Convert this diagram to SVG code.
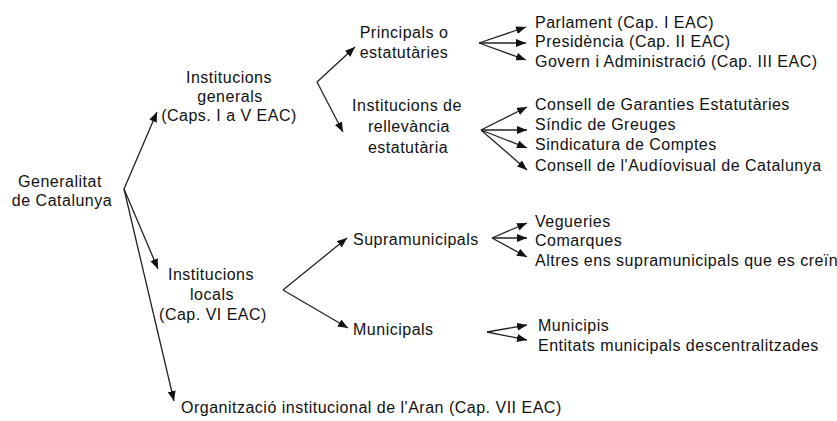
<svg xmlns="http://www.w3.org/2000/svg" width="837" height="421" viewBox="0 0 837 421">
<style>
text{font-family:"Liberation Sans",Arial,sans-serif;font-size:16px;fill:#111;letter-spacing:0.5px}
.c{text-anchor:middle}
.ln{stroke:#222;stroke-width:1.3;fill:none;marker-end:url(#ah)}
</style>
<defs>
<marker id="ah" markerUnits="userSpaceOnUse" markerWidth="11" markerHeight="9" refX="10" refY="4" orient="auto" viewBox="0 0 11 9">
<path d="M0,0 L10,4 L0,8 z" fill="#111"/>
</marker>
</defs>
<rect width="837" height="421" fill="#fff"/>
<g id="connectors">
<path class="ln" d="M124,189 L157,112"/>
<path class="ln" d="M124,189 L158,269"/>
<path class="ln" d="M124,189 L174,401"/>
<path class="ln" d="M317,82 L355,47"/>
<path class="ln" d="M317,82 L343,132"/>
<path class="ln" d="M283,290 L347,238"/>
<path class="ln" d="M283,290 L348,328"/>
<path class="ln" d="M479,43 L526,27"/>
<path class="ln" d="M479,43 L526,43"/>
<path class="ln" d="M479,43 L526,60"/>
<path class="ln" d="M481,130 L527,107"/>
<path class="ln" d="M481,130 L527,130"/>
<path class="ln" d="M481,130 L527,148"/>
<path class="ln" d="M481,130 L527,170"/>
<path class="ln" d="M492,238 L527,223"/>
<path class="ln" d="M492,238 L527,238"/>
<path class="ln" d="M492,238 L527,257"/>
<path class="ln" d="M487,332 L527,325"/>
<path class="ln" d="M487,332 L527,340"/>
</g>
<g id="generalitat"><text class="c" x="60" y="187">Generalitat</text><text class="c" x="62" y="206">de Catalunya</text></g>
<g id="inst-generals"><text class="c" x="229" y="83">Institucions</text><text class="c" x="230" y="102">generals</text><text class="c" x="229" y="121">(Caps. I a V EAC)</text></g>
<g id="principals"><text class="c" x="404" y="38">Principals o</text><text class="c" x="404" y="58">estatutàries</text></g>
<g id="rellevancia"><text class="c" x="407" y="111">Institucions de</text><text class="c" x="409" y="132">rellevància</text><text class="c" x="408" y="153">estatutària</text></g>
<g id="parlament"><text x="535" y="28">Parlament (Cap. I EAC)</text></g>
<g id="presidencia"><text x="535" y="47">Presidència (Cap. II EAC)</text></g>
<g id="govern"><text x="535" y="67">Govern i Administració (Cap. III EAC)</text></g>
<g id="consell-garanties"><text x="535" y="110">Consell de Garanties Estatutàries</text></g>
<g id="sindic"><text x="535" y="130">Síndic de Greuges</text></g>
<g id="sindicatura"><text x="535" y="150">Sindicatura de Comptes</text></g>
<g id="audiovisual"><text x="535" y="171">Consell de l'Audíovisual de Catalunya</text></g>
<g id="inst-locals"><text class="c" x="211" y="280">Institucions</text><text class="c" x="212" y="300">locals</text><text class="c" x="213" y="320">(Cap. VI EAC)</text></g>
<g id="supramunicipals"><text x="353" y="245">Supramunicipals</text></g>
<g id="vegueries"><text x="535" y="227">Vegueries</text></g>
<g id="comarques"><text x="535" y="246">Comarques</text></g>
<g id="altres"><text x="535" y="266">Altres ens supramunicipals que es creïn</text></g>
<g id="municipals"><text x="353" y="335">Municipals</text></g>
<g id="municipis"><text x="538" y="331">Municipis</text></g>
<g id="entitats"><text x="538" y="351">Entitats municipals descentralitzades</text></g>
<g id="aran"><text x="181" y="413">Organització institucional de l'Aran (Cap. VII EAC)</text></g>
</svg>
